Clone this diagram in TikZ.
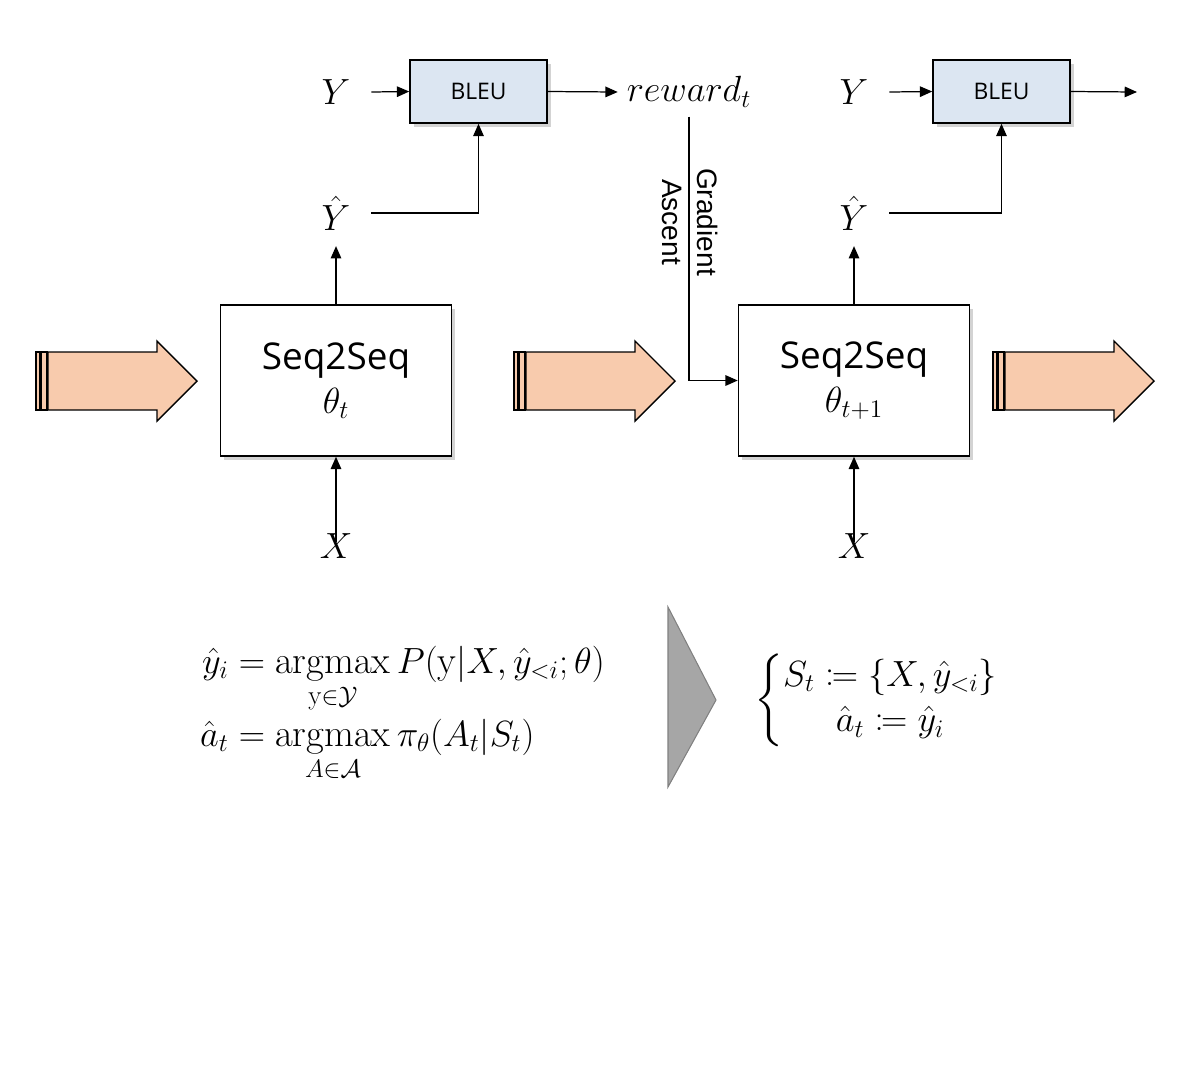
\documentclass[tikz,border=0pt]{standalone}
\usepackage{amsmath,amssymb,mathtools}
\usepackage{fontspec}
\newfontfamily\boxfont{Open Sans}
\newfontfamily\lblfont{Liberation Sans}
\usetikzlibrary{arrows.meta,shadows,calc}
\definecolor{bleufill}{HTML}{DCE6F2}
\definecolor{peach}{HTML}{F8CBAD}
\definecolor{trigray}{HTML}{A6A6A6}
\tikzset{
  conn/.style={line width=0.7pt,-{Triangle[length=7pt,width=6pt]}},
  bleubox/.style={draw,line width=0.9pt,fill=bleufill,minimum width=2.74cm,minimum height=1.26cm,
    font=\boxfont\fontsize{13}{15}\selectfont,
    drop shadow={opacity=0.35,shadow xshift=2pt,shadow yshift=-2pt}},
  seqbox/.style={draw,line width=0.9pt,fill=white,minimum width=4.62cm,minimum height=3.02cm,align=center,
    font=\boxfont\fontsize{21}{26}\selectfont,
    drop shadow={opacity=0.35,shadow xshift=2pt,shadow yshift=-2pt}},
  mlabel/.style={minimum width=1.4cm,inner sep=2pt,font=\fontsize{22}{26}\selectfont},
  pics/fatarrow/.style={code={
    \draw[line width=0.8pt,fill=peach] (0,-29) rectangle (4,29);
    \draw[line width=0.8pt,fill=peach] (5,-29) rectangle (11,29);
    \draw[line width=0.8pt,fill=peach] (12,-29) -- (121,-29) -- (121,-40) -- (161,0) -- (121,40) -- (121,29) -- (12,29) -- cycle;
  }}
}
\begin{document}
\begin{tikzpicture}[x=0.02cm,y=-0.02cm]
\useasboundingbox (0,0) rectangle (1200,1083);

% fat arrows
\pic at (36,381) {fatarrow};
\pic at (514,381) {fatarrow};
\pic at (993,381) {fatarrow};

% stage 1
\node[seqbox] (seq1) at (336,380.5) {Seq2Seq\\[-1pt]$\theta_t$};
\node[bleubox] (bleu1) at (478.5,91.5) {BLEU};
\node[mlabel] (y1) at (336,92) {$Y$};
\node[mlabel] (yh1) at (336,213) {$\hat{Y}$};
\node[mlabel] (x1) at (336,546) {$X$};
\node[inner sep=5pt,font=\fontsize{22}{26}\selectfont] (rew) at (689,92) {$reward_t$};

\draw[conn] (y1.east) -- (bleu1.west);
\draw[conn] (bleu1.east) -- (rew.west);
\draw[conn] (yh1.east) -| (bleu1.south);
\draw[conn] (seq1.north) -- ($(yh1.south)+(0,12)$);
\draw[conn] ($(x1.north)+(0,12)$) -- (seq1.south);

% stage 2
\node[seqbox] (seq2) at (854,380.5) {Seq2Seq\\[-1pt]$\theta_{t+1}$};
\node[bleubox] (bleu2) at (1001.5,91.5) {BLEU};
\node[mlabel] (y2) at (854,92) {$Y$};
\node[mlabel] (yh2) at (854,213) {$\hat{Y}$};
\node[mlabel] (x2) at (854,546) {$X$};
\coordinate (out2) at (1137,92);

\draw[conn] (y2.east) -- (bleu2.west);
\draw[conn] (bleu2.east) -- (out2);
\draw[conn] (yh2.east) -| (bleu2.south);
\draw[conn] (seq2.north) -- ($(yh2.south)+(0,12)$);
\draw[conn] ($(x2.north)+(0,12)$) -- (seq2.south);

% gradient ascent
\draw[conn] (rew.south) |- (seq2.west);
\node[rotate=-90,align=center,font=\lblfont\fontsize{16}{20}\selectfont] (ga) at (690,222) {Gradient\\Ascent};

% triangle
\filldraw[fill=trigray,draw=gray,line width=0.6pt] (668,607) -- (716,700) -- (668,787) -- cycle;

% equations
\node[anchor=west,font=\fontsize{22}{26}\selectfont] (eq1) at (194,712) {$\displaystyle
\begin{aligned}
\hat{y}_i &= \operatorname*{argmax}_{\mathrm{y}\in\mathcal{Y}} P(\mathrm{y}|X,\hat{y}_{<i};\theta)\\[-4pt]
\hat{a}_t &= \operatorname*{argmax}_{A\in\mathcal{A}} \pi_\theta(A_t|S_t)
\end{aligned}$};
\node[anchor=west,font=\fontsize{22}{26}\selectfont] (eq2) at (748,700) {$\left\{\begin{array}{@{}c@{}}
S_t \coloneqq \{X,\hat{y}_{<i}\}\\
\hat{a}_t \coloneqq \hat{y}_i
\end{array}\right.$};
\end{tikzpicture}
\end{document}
